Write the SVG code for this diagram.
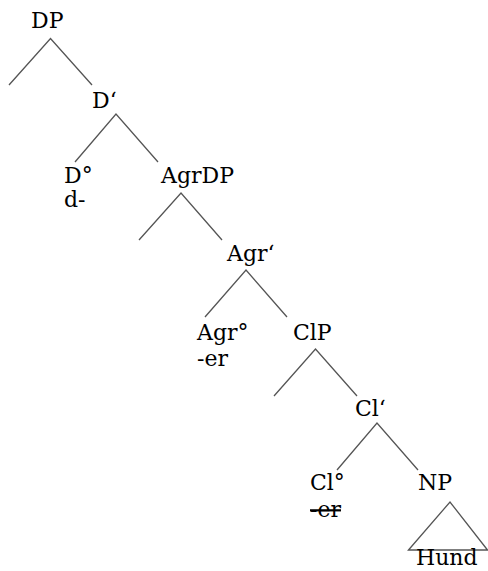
<svg xmlns="http://www.w3.org/2000/svg" width="488" height="571" viewBox="0 0 488 571">
<style>
text{font-family:"DejaVu Serif","Liberation Serif",serif;font-size:22px;fill:#000}
.e{fill:none;stroke:#555;stroke-width:1.3}
.s{text-decoration:line-through}
</style>
<rect width="488" height="571" fill="#fff"/>
<g id="connectors">
<path class="e" d="M9,85 L50.5,38.5 L92,85"/>
<path class="e" d="M75,162 L116,114 L158,162"/>
<path class="e" d="M139,240 L181,193 L222,240"/>
<path class="e" d="M205,317 L246,270 L287,317"/>
<path class="e" d="M274,396 L315.5,349 L357,396"/>
<path class="e" d="M337,470 L377,423 L418,470"/>
<path class="e" d="M408.5,550 L450,502 L487.5,550 Z"/>
</g>
<g id="DP"><text x="31" y="28">DP</text></g>
<g id="Dbar"><text x="92" y="108">D‘</text></g>
<g id="D0"><text x="64" y="183">D°</text><text x="64" y="207">d-</text></g>
<g id="AgrDP"><text x="161" y="183">AgrDP</text></g>
<g id="Agrbar"><text x="227" y="261">Agr‘</text></g>
<g id="Agr0"><text x="197" y="340">Agr°</text><text x="197" y="366">-er</text></g>
<g id="ClP"><text x="293" y="340">ClP</text></g>
<g id="Clbar"><text x="355" y="416">Cl‘</text></g>
<g id="Cl0"><text x="310" y="490">Cl°</text><text x="310" y="517" class="s">-er</text></g>
<g id="NP"><text x="418" y="490">NP</text></g>
<g id="Hund"><text x="416" y="565" font-size="21">Hund</text></g>
</svg>
